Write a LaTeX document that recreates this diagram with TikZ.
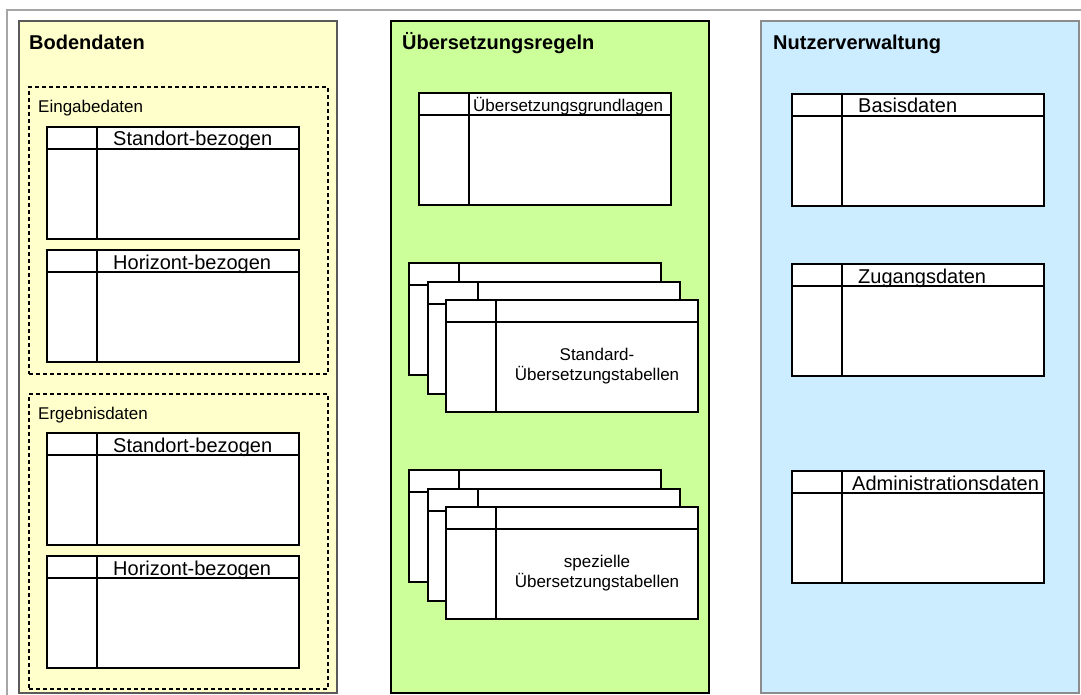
\documentclass[tikz,border=0pt]{standalone}
\usepackage{fontspec}
\setmainfont{Liberation Sans}
\definecolor{bodenfill}{HTML}{FFFFCC}
\definecolor{regelfill}{HTML}{CCFF99}
\definecolor{nutzerfill}{HTML}{CCECFF}
\definecolor{framegray}{HTML}{A6A6A6}
\definecolor{panelgray}{HTML}{5A5A5A}
\definecolor{bluegray}{HTML}{8C8C8C}
\tikzset{
  panel/.style={draw, line width=1.4pt, anchor=north west, inner sep=0pt, outer sep=0pt},
  group/.style={draw, dashed, dash pattern=on 4pt off 3pt, line width=1.4pt, anchor=north west, inner sep=0pt, outer sep=0pt},
  tbl/.style={draw, fill=white, line width=1.1pt, anchor=north west, inner sep=0pt, outer sep=0pt,
              minimum width=252pt, minimum height=112pt},
  tblline/.style={line width=1.1pt},
  title/.style={font=\fontsize{20}{24}\selectfont\bfseries, anchor=base west, inner sep=0pt},
  grouplabel/.style={font=\fontsize{17}{20}\selectfont, anchor=base west, inner sep=0pt},
  hdr/.style={font=\fontsize{20}{24}\selectfont, anchor=base west, inner sep=0pt},
  hdrsmall/.style={font=\fontsize{17}{20}\selectfont, anchor=base west, inner sep=0pt},
  bodytext/.style={font=\fontsize{17}{20}\selectfont, align=center, inner sep=0pt},
}
% table widget: name, x, y, header style, text offset after divider, header text
\newcommand{\dbtable}[6]{%
  \node[tbl] (#1) at (#2,#3) {};
  \draw[tblline] ([yshift=-22pt]#1.north west) -- ([yshift=-22pt]#1.north east);
  \draw[tblline] ([xshift=50pt]#1.north west) -- ([xshift=50pt]#1.south west);
  \node[#4] (#1-t) at ([xshift=50pt+#5pt, yshift=-19pt]#1.north west) {#6};
}
\begin{document}
\begin{tikzpicture}[x=1pt,y=-1pt]
\useasboundingbox (0,0) rectangle (1081,695);
% outer frame (cut off on the right and at the bottom)
\coordinate (fa) at (7,695);
\coordinate (fb) at (7,10);
\coordinate (fc) at (1081,10);
\draw[framegray, line width=2pt] (fa) -- (fb) -- (fc);

% panels
\node[panel, draw=panelgray, fill=bodenfill, minimum width=318pt, minimum height=672pt] (boden) at (19,21) {};
\node[panel, draw=black, fill=regelfill, minimum width=318pt, minimum height=672pt] (regeln) at (391,21) {};
\node[panel, draw=bluegray, fill=nutzerfill, minimum width=318pt, minimum height=672pt] (nutzer) at (761,21) {};

\node[title] (t-boden) at (29,50) {Bodendaten};
\node[title] (t-regeln) at (402,50) {Übersetzungsregeln};
\node[title] (t-nutzer) at (773,50) {Nutzerverwaltung};

% Bodendaten: two dashed groups
\node[group, minimum width=299pt, minimum height=287pt] (eingabe) at (29,87) {};
\node[grouplabel] (eingabe-t) at (38,112.5) {Eingabedaten};
\dbtable{e1}{47}{127}{hdr}{16}{Standort-bezogen}
\dbtable{e2}{47}{250}{hdr}{16}{Horizont-bezogen}

\node[group, minimum width=299pt, minimum height=295pt] (ergebnis) at (29,394) {};
\node[grouplabel] (ergebnis-t) at (38,419) {Ergebnisdaten};
\dbtable{r1}{47}{433}{hdr}{16}{Standort-bezogen}
\dbtable{r2}{47}{556}{hdr}{16}{Horizont-bezogen}

% Übersetzungsregeln
\dbtable{ug}{419}{93}{hdrsmall}{4}{Übersetzungsgrundlagen}

\dbtable{s1}{409}{263}{hdr}{0}{}
\dbtable{s2}{428}{282}{hdr}{0}{}
\dbtable{s3}{446}{300}{hdr}{0}{}
\node[bodytext] (s3-t) at (597,366) {Standard-\\Übersetzungstabellen};

\dbtable{p1}{409}{470}{hdr}{0}{}
\dbtable{p2}{428}{489}{hdr}{0}{}
\dbtable{p3}{446}{507}{hdr}{0}{}
\node[bodytext] (p3-t) at (597,573) {spezielle\\Übersetzungstabellen};

% Nutzerverwaltung
\dbtable{nb}{792}{94}{hdr}{16}{Basisdaten}
\dbtable{nz}{792}{264}{hdr}{16}{Zugangsdaten}
\dbtable{na}{792}{471}{hdr}{10}{Administrationsdaten}
\end{tikzpicture}
\end{document}
